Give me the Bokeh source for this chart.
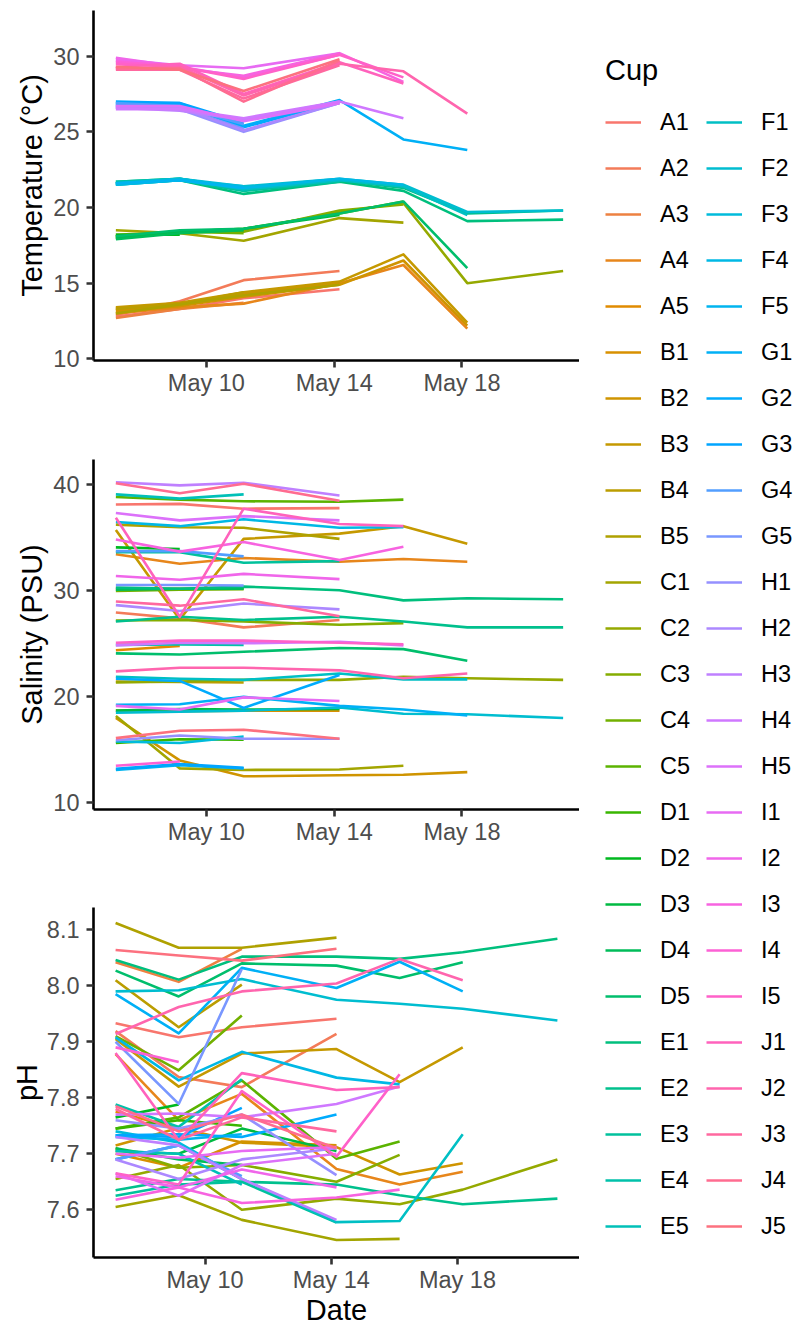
import numpy as np
import pandas as pd
from bokeh.plotting import figure
from bokeh.models import (Range1d, FixedTicker, DatetimeTickFormatter, PrintfTickFormatter,
                          Legend, LegendItem, ColumnDataSource)
from bokeh.layouts import row, column
from bokeh.embed import file_html
from bokeh.resources import INLINE

# ---------------- data ----------------
CUPS = [f"{l}{i}" for l in "ABCDEFGHIJ" for i in range(1, 6)]
DATES = ["2019-05-07 04:00", "2019-05-09 04:00", "2019-05-11 04:00", "2019-05-14 04:00",
         "2019-05-16 04:00", "2019-05-18 04:00", "2019-05-21 04:00"]
TICK_DATES = ["2019-05-10", "2019-05-14", "2019-05-18"]

TEMP = {
    "A1": [12.8, 13.3, 14.0, 14.6], "A2": [12.9, 13.8, 15.2, 15.8], "A3": [12.7, 13.3, 13.7],
    "A4": [13.0, 13.4, 13.65, 15.0, 16.2, 12.0], "A5": [13.2, 13.6],
    "B1": [13.3, 13.5, 14.3, 15.0], "B2": [13.1, 13.5, 14.1, 14.9, 16.5, 12.2],
    "B3": [13.4, 13.7, 14.4, 15.1, 16.9, 12.4], "B4": [13.3, 13.6, 14.4], "B5": [13.0, 13.6, 14.2, 14.9],
    "C1": [18.5, 18.3, 17.8, 19.3, 19.0], "C2": [18.1, 18.4, 18.5, 19.7, 20.3, 15.0, 15.8],
    "C3": [18.2, 18.4, 18.4, 19.8, 20.2], "C4": [18.0, 18.4, 18.3], "C5": [18.1, 18.4, 18.6, 19.6, 20.4],
    "D1": [18.0, 18.4, 18.5], "D2": [18.2, 18.2], "D3": [18.0, 18.4, 18.6, 19.5], "D4": [17.9, 18.3, 18.5],
    "D5": [18.1, 18.5, 18.6, 19.6, 20.4, 16.0],
    "E1": [21.6, 21.8, 20.9, 21.7, 21.1, 19.1, 19.2], "E2": [21.7, 21.9, 21.3, 21.8, 21.3, 19.6, 19.8],
    "E3": [21.6, 21.8, 21.1, 21.7], "E4": [21.7, 21.9, 21.2], "E5": [21.5, 21.8, 21.3],
    "F1": [21.6, 21.9, 21.2, 21.8, 21.4, 19.5], "F2": [21.5, 21.8, 21.4, 21.9, 21.5, 19.7, 19.8],
    "F3": [21.6, 21.9, 21.4], "F4": [21.5, 21.8, 21.3, 21.9, 21.5], "F5": [21.6, 21.8, 21.3],
    "G1": [26.9, 26.9, 25.4, 27.1, 24.5, 23.8], "G2": [26.8, 26.8, 25.3, 27.0], "G3": [27.0, 26.9, 25.6],
    "G4": [26.9, 26.7, 25.5], "G5": [26.7, 26.6, 25.2],
    "H1": [26.6, 26.5, 25.0, 26.9], "H2": [26.7, 26.6, 25.1, 26.9], "H3": [26.6, 26.4, 25.8, 27.0],
    "H4": [26.5, 26.5, 25.9, 27.0, 25.9], "H5": [26.7, 26.7, 25.7, 26.9],
    "I1": [29.8, 29.4, 29.2, 30.2], "I2": [29.9, 29.3, 28.6, 30.1], "I3": [29.7, 29.2, 28.7, 30.2, 28.3],
    "I4": [29.6, 29.4], "I5": [29.5, 29.3, 28.5, 30.1, 28.6],
    "J1": [29.3, 29.5, 27.5, 29.6, 28.2], "J2": [29.2, 29.3, 27.4, 29.5, 29.0, 26.2],
    "J3": [29.1, 29.1, 27.2, 29.4], "J4": [29.2, 29.2, 27.0, 29.7], "J5": [29.3, 29.1, 27.7, 29.8],
}

SAL = {
    "A1": [38.15, 38.2, 37.75, 37.8], "A2": [27.95, 27.4, 26.55, 27.25], "A3": [30.25, 30.2, 30.3],
    "A4": [33.45, 32.55, 33.1, 32.75, 33.0, 32.75], "A5": [24.4, 24.8],
    "B1": [18.7, 18.65, 18.7, 18.7], "B2": [18.0, 14.0, 12.5, 12.6, 12.65, 12.9],
    "B3": [35.75, 27.3, 34.9, 35.4, 36.1, 34.45], "B4": [21.45, 21.4, 21.35], "B5": [36.25, 36.0, 35.95, 34.9],
    "C1": [18.2, 13.25, 13.1, 13.15, 13.5], "C2": [21.35, 21.45, 21.6, 21.6, 21.9, 21.75, 21.6],
    "C3": [27.2, 27.25, 27.1, 26.8, 26.95], "C4": [30.0, 30.1, 30.15], "C5": [38.85, 38.6, 38.45, 38.4, 38.6],
    "D1": [15.65, 16.0, 15.95], "D2": [34.1, 33.95], "D3": [18.7, 18.85, 18.8, 18.85], "D4": [30.1, 30.2, 30.2],
    "D5": [24.1, 24.0, 24.25, 24.6, 24.5, 23.4],
    "E1": [30.3, 30.2, 30.4, 30.05, 29.1, 29.3, 29.2], "E2": [27.1, 27.55, 27.25, 27.55, 27.1, 26.55, 26.55],
    "E3": [33.65, 33.65, 32.65, 32.8], "E4": [24.9, 24.95, 24.9], "E5": [39.1, 38.7, 39.1],
    "F1": [21.9, 21.7, 21.6, 22.2, 21.65, 21.65], "F2": [18.5, 18.6, 18.7, 19.0, 18.4, 18.35, 18.0],
    "F3": [15.8, 15.65, 16.25], "F4": [36.5, 36.1, 36.75, 35.95, 36.0], "F5": [13.1, 13.55, 13.25],
    "G1": [19.25, 19.3, 20.0, 19.15, 18.8, 18.25], "G2": [21.7, 21.5, 18.95, 22.05], "G3": [13.2, 13.65, 13.3],
    "G4": [33.75, 33.75, 33.25], "G5": [30.55, 30.55, 30.5],
    "H1": [15.9, 16.35, 16.05, 16.05], "H2": [28.65, 28.1, 28.8, 28.25], "H3": [40.25, 39.95, 40.2, 39.0],
    "H4": [24.85, 25.1, 25.05, 25.2, 24.85], "H5": [37.35, 36.65, 37.05, 36.65],
    "I1": [19.15, 18.8, 19.95, 19.6], "I2": [31.4, 31.05, 31.6, 31.1], "I3": [34.85, 33.7, 34.6, 32.9, 34.15],
    "I4": [13.5, 13.9], "I5": [25.1, 25.3, 25.3, 25.1, 24.95],
    "J1": [36.9, 27.55, 37.75, 36.3, 36.1], "J2": [22.4, 22.75, 22.75, 22.5, 21.75, 22.2],
    "J3": [29.0, 28.6, 29.2, 27.6], "J4": [40.15, 39.2, 40.1, 38.5], "J5": [16.1, 16.8, 16.9, 16.05],
}

PH = {
    "A1": [7.933, 7.908, 7.926, 7.941], "A2": [7.919, 7.837, 7.819, 7.914], "A3": [8.042, 8.007, 8.066],
    "A4": [7.878, 7.76, 7.807, 7.673, 7.645, 7.668], "A5": [7.775, 7.745],
    "B1": [7.70, 7.675, 7.722, 7.715], "B2": [7.715, 7.746, 7.72, 7.712, 7.663, 7.683],
    "B3": [7.905, 7.82, 7.879, 7.887, 7.828, 7.89], "B4": [8.01, 7.926, 8.002], "B5": [8.112, 8.068, 8.068, 8.086],
    "C1": [7.605, 7.626, 7.582, 7.546, 7.548], "C2": [7.655, 7.68, 7.60, 7.62, 7.61, 7.636, 7.69],
    "C3": [7.71, 7.675, 7.68, 7.65, 7.698], "C4": [7.91, 7.849, 7.947], "C5": [7.745, 7.765, 7.831, 7.691, 7.722],
    "D1": [7.745, 7.76, 7.75], "D2": [7.765, 7.788], "D3": [7.705, 7.70, 7.745, 7.705], "D4": [7.71, 7.69, 7.68],
    "D5": [8.027, 7.981, 8.04, 8.036, 8.014, 8.042],
    "E1": [8.046, 8.011, 8.052, 8.052, 8.048, 8.06, 8.084], "E2": [7.635, 7.655, 7.65, 7.645, 7.626, 7.61, 7.62],
    "E3": [7.625, 7.645, 7.65, 7.577], "E4": [7.788, 7.748, 7.833], "E5": [7.705, 7.70, 7.645],
    "F1": [7.69, 7.715, 7.655, 7.578, 7.58, 7.735], "F2": [7.99, 7.992, 8.012, 7.975, 7.968, 7.959, 7.938],
    "F3": [7.74, 7.72, 7.655], "F4": [7.908, 7.831, 7.882, 7.836, 7.824], "F5": [7.73, 7.725, 7.735],
    "G1": [7.985, 7.915, 8.032, 7.996, 8.043, 7.99], "G2": [7.733, 7.735, 7.73, 7.77], "G3": [7.733, 7.73, 7.782],
    "G4": [7.69, 7.715, 7.66], "G5": [7.90, 7.789, 8.03],
    "H1": [7.76, 7.745, 7.77, 7.662], "H2": [7.69, 7.655, 7.69, 7.71], "H3": [7.73, 7.715, 7.655, 7.582],
    "H4": [7.77, 7.772, 7.765, 7.789, 7.82], "H5": [7.665, 7.625, 7.68, 7.70],
    "I1": [7.70, 7.693, 7.705, 7.712], "I2": [7.66, 7.64, 7.672, 7.64], "I3": [7.618, 7.64, 7.612, 7.622, 7.636],
    "I4": [7.89, 7.864], "I5": [7.665, 7.645, 7.812, 7.695, 7.842],
    "J1": [7.88, 7.724, 7.844, 7.814, 7.819], "J2": [7.914, 7.962, 7.99, 8.004, 8.048, 8.01],
    "J3": [7.78, 7.725, 7.765, 7.74], "J4": [7.785, 7.74, 7.77, 7.71], "J5": [8.064, 8.054, 8.045, 8.066],
}

TEMP_TICKS = [10, 15, 20, 25, 30]
SAL_TICKS = [10, 20, 30, 40]
PH_TICKS = [7.6, 7.7, 7.8, 7.9, 8.0, 8.1]


# ---------------- ggplot2 hue palette ----------------
def hcl_hex(h, c=100.0, l=65.0):
    WX, WY, WZ = 95.047, 100.0, 108.883
    den = WX + 15 * WY + 3 * WZ
    wu, wv = 4 * WX / den, 9 * WY / den
    hr = np.deg2rad(h)
    U, V = c * np.cos(hr), c * np.sin(hr)
    Y = WY * (((l + 16) / 116) ** 3 if l > 7.999592 else l / 903.3)
    u = U / (13 * l) + wu
    v = V / (13 * l) + wv
    X = 9.0 * Y * u / (4 * v)
    Z = -X / 3 - 5 * Y + 3 * Y / v

    def g(t):
        t = 1.055 * t ** (1 / 2.4) - 0.055 if t > 0.00304 else 12.92 * t
        return int(round(255 * min(1.0, max(0.0, t))))
    r = g((3.240479 * X - 1.537150 * Y - 0.498535 * Z) / WY)
    gg = g((-0.969256 * X + 1.875992 * Y + 0.041556 * Z) / WY)
    b = g((0.055648 * X - 0.204043 * Y + 1.057311 * Z) / WY)
    return "#%02X%02X%02X" % (r, gg, b)


n = len(CUPS)
COLORS = [hcl_hex(15 + 360.0 * i / n) for i in range(n)]

FONT = "Liberation Sans"
TICK_TXT = "23.5px"
TITLE_TXT = "29px"


def ms(s):
    return pd.Timestamp(s).value / 1e6


X_MS = [ms(d) for d in DATES]
span = X_MS[-1] - X_MS[0]
X_RANGE = (X_MS[0] - 0.05 * span, X_MS[-1] + 0.05 * span)


def panel(data, ylab, yr, yticks, fmt, border_left, frame_w, border_top, border_bottom,
          ylab_standoff, xlab=None):
    p = figure(output_backend="svg", toolbar_location=None, x_axis_type="datetime",
               frame_width=frame_w, frame_height=350,
               min_border_left=border_left, min_border_right=0,
               min_border_top=border_top, min_border_bottom=border_bottom,
               x_range=Range1d(*X_RANGE), y_range=Range1d(*yr))
    p.outline_line_color = None
    p.grid.visible = False
    p.background_fill_color = "white"
    xs = [X_MS[:len(data[c])] for c in CUPS]
    ys = [data[c] for c in CUPS]
    src = ColumnDataSource(dict(xs=xs, ys=ys, color=COLORS))
    p.multi_line("xs", "ys", source=src, line_color="color", line_width=2.6, line_join="round")

    for ax in (p.xaxis[0], p.yaxis[0]):
        ax.axis_line_color = "black"
        ax.axis_line_width = 2.6
        ax.major_tick_line_color = "#333333"
        ax.major_tick_line_width = 2.6
        ax.major_tick_out = 7
        ax.major_tick_in = 0
        ax.minor_tick_line_color = None
        ax.major_label_text_font = FONT
        ax.major_label_text_font_size = TICK_TXT
        ax.major_label_text_color = "#4D4D4D"
        ax.axis_label_text_font = FONT
        ax.axis_label_text_font_size = TITLE_TXT
        ax.axis_label_text_color = "black"
        ax.axis_label_text_font_style = "normal"

    p.yaxis.ticker = FixedTicker(ticks=yticks)
    p.yaxis.formatter = PrintfTickFormatter(format=fmt)
    p.yaxis.axis_label = ylab
    p.yaxis.major_label_standoff = 7
    p.yaxis.axis_label_standoff = ylab_standoff

    p.xaxis.ticker = FixedTicker(ticks=[ms(d) for d in TICK_DATES])
    p.xaxis.formatter = DatetimeTickFormatter(days="%b %d", months="%b %d", hours="%b %d",
                                              years="%b %d")
    p.xaxis.major_label_standoff = 2
    if xlab:
        p.xaxis.axis_label = xlab
        p.xaxis.axis_label_standoff = -2
    return p


p1 = panel(TEMP, "Temperature (°C)", (9.89, 33.02), TEMP_TICKS, "%d", 87, 492, 10, 48, 2)
p2 = panel(SAL, "Salinity (PSU)", (9.37, 42.39), SAL_TICKS, "%d", 87, 492, 51, 47, 2)
p3 = panel(PH, "pH", (7.5148, 8.1398), PH_TICKS, "%.1f", 93, 486, 51, 0, 1, xlab="Date")

# ---------------- legend ----------------
pl = figure(output_backend="svg", toolbar_location=None, width=218, height=1300,
            x_range=Range1d(0, 1), y_range=Range1d(0, 1), x_axis_type=None, y_axis_type=None,
            min_border_left=26, min_border_top=54, min_border_right=0, min_border_bottom=0)
pl.outline_line_color = None
pl.grid.visible = False
items = []
for c, col in zip(CUPS, COLORS):
    r = pl.line(x=[np.nan], y=[np.nan], line_color=col, line_width=2.6)
    items.append(LegendItem(label=c, renderers=[r]))

leg = Legend(items=items, ncols=2, orientation="vertical", location="top_left",
             margin=0, padding=0, spacing=16,
             glyph_width=36, glyph_height=30, label_height=30, label_standoff=19,
             label_text_font=FONT, label_text_font_size=TICK_TXT, label_text_color="black",
             title="Cup", title_text_font=FONT, title_text_font_size=TITLE_TXT,
             title_text_color="black", title_text_font_style="normal", title_standoff=20,
             border_line_color=None, background_fill_alpha=0)
pl.add_layout(leg)

layout = row(column(p1, p2, p3), pl)
open("out.html", "w").write(file_html(layout, INLINE))
